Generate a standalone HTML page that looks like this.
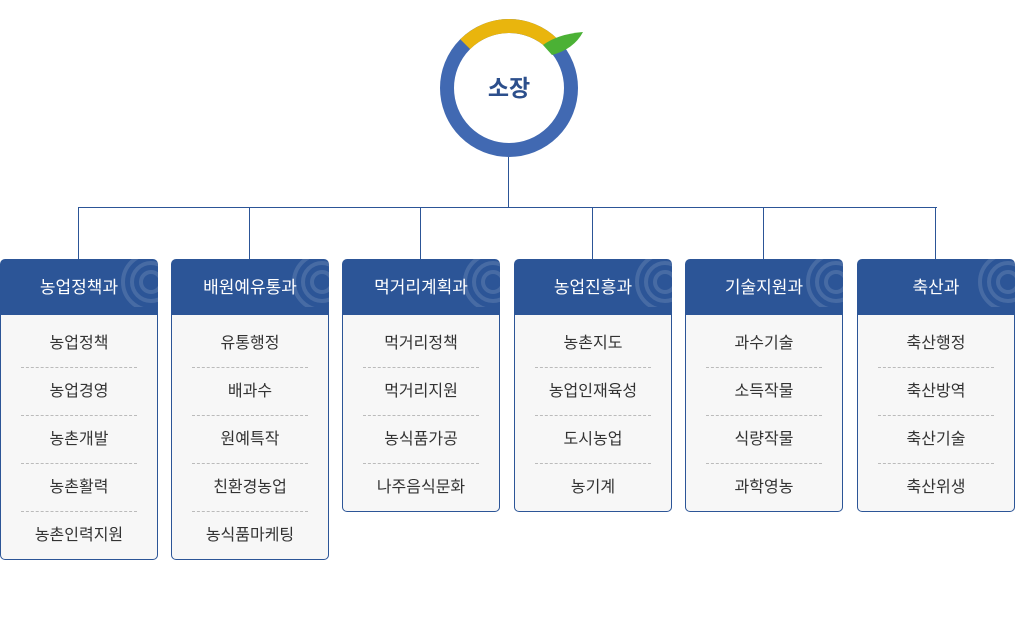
<!DOCTYPE html>
<html><head><meta charset="utf-8"><style>
body{margin:0;width:1016px;height:634px;background:#fff;position:relative;font-family:"Liberation Sans","Noto Sans CJK KR",sans-serif;overflow:hidden}
.col{position:absolute;top:259px;width:158px}
.hd{height:56px;background:#2c5597;border-radius:5px 5px 0 0;color:#fff;font-size:17px;text-align:center;line-height:58px;position:relative;overflow:hidden}
.hd svg{position:absolute;right:-18px;top:-22px}
.hd span{position:relative}
.bd{background:#f7f7f7;border:1px solid #2c5597;border-top:none;border-radius:0 0 5px 5px;padding:6px 0 0}
.it{height:47px;line-height:47px;text-align:center;font-size:16px;color:#333;margin:0 20px;border-top:1px dashed #bbb}
.it:first-child{border-top:none;height:46px;line-height:46px}
.ln{position:absolute;background:#2c5597}
</style></head><body>
<svg width="1016" height="200" style="position:absolute;left:0;top:0">
<circle cx="509" cy="88" r="62" fill="none" stroke="#4169b2" stroke-width="14"/>
<path d="M465.2 44.2 A62 62 0 0 1 552.1 43.4" fill="none" stroke="#e9b50d" stroke-width="14"/>
<path d="M543 45 Q558 34 583 32 Q574 49 552 55 Z" fill="#4bb135"/>
<text x="509" y="96" text-anchor="middle" font-size="23" font-weight="bold" fill="#2c4f8c" font-family="Liberation Sans,Noto Sans CJK KR,sans-serif">소장</text>
</svg>
<div class="ln" style="left:508px;top:157px;width:1px;height:50px"></div>
<div class="ln" style="left:78px;top:207px;width:859px;height:1px"></div>
<div class="ln" style="left:78px;top:207px;width:1px;height:52px"></div>
<div class="ln" style="left:249px;top:207px;width:1px;height:52px"></div>
<div class="ln" style="left:420px;top:207px;width:1px;height:52px"></div>
<div class="ln" style="left:592px;top:207px;width:1px;height:52px"></div>
<div class="ln" style="left:763px;top:207px;width:1px;height:52px"></div>
<div class="ln" style="left:935px;top:207px;width:1px;height:52px"></div>

<div class="col" style="left:0"><div class="hd"><svg width="70" height="70"><g fill="none" stroke="#fff" stroke-opacity=".13" stroke-width="4"><circle cx="45" cy="45" r="10"/><circle cx="45" cy="45" r="19"/><circle cx="45" cy="45" r="28"/></g></svg><span>농업정책과</span></div><div class="bd"><div class="it">농업정책</div><div class="it">농업경영</div><div class="it">농촌개발</div><div class="it">농촌활력</div><div class="it">농촌인력지원</div></div></div>
<div class="col" style="left:171px"><div class="hd"><svg width="70" height="70"><g fill="none" stroke="#fff" stroke-opacity=".13" stroke-width="4"><circle cx="45" cy="45" r="10"/><circle cx="45" cy="45" r="19"/><circle cx="45" cy="45" r="28"/></g></svg><span>배원예유통과</span></div><div class="bd"><div class="it">유통행정</div><div class="it">배과수</div><div class="it">원예특작</div><div class="it">친환경농업</div><div class="it">농식품마케팅</div></div></div>
<div class="col" style="left:342px"><div class="hd"><svg width="70" height="70"><g fill="none" stroke="#fff" stroke-opacity=".13" stroke-width="4"><circle cx="45" cy="45" r="10"/><circle cx="45" cy="45" r="19"/><circle cx="45" cy="45" r="28"/></g></svg><span>먹거리계획과</span></div><div class="bd"><div class="it">먹거리정책</div><div class="it">먹거리지원</div><div class="it">농식품가공</div><div class="it">나주음식문화</div></div></div>
<div class="col" style="left:514px"><div class="hd"><svg width="70" height="70"><g fill="none" stroke="#fff" stroke-opacity=".13" stroke-width="4"><circle cx="45" cy="45" r="10"/><circle cx="45" cy="45" r="19"/><circle cx="45" cy="45" r="28"/></g></svg><span>농업진흥과</span></div><div class="bd"><div class="it">농촌지도</div><div class="it">농업인재육성</div><div class="it">도시농업</div><div class="it">농기계</div></div></div>
<div class="col" style="left:685px"><div class="hd"><svg width="70" height="70"><g fill="none" stroke="#fff" stroke-opacity=".13" stroke-width="4"><circle cx="45" cy="45" r="10"/><circle cx="45" cy="45" r="19"/><circle cx="45" cy="45" r="28"/></g></svg><span>기술지원과</span></div><div class="bd"><div class="it">과수기술</div><div class="it">소득작물</div><div class="it">식량작물</div><div class="it">과학영농</div></div></div>
<div class="col" style="left:857px"><div class="hd"><svg width="70" height="70"><g fill="none" stroke="#fff" stroke-opacity=".13" stroke-width="4"><circle cx="45" cy="45" r="10"/><circle cx="45" cy="45" r="19"/><circle cx="45" cy="45" r="28"/></g></svg><span>축산과</span></div><div class="bd"><div class="it">축산행정</div><div class="it">축산방역</div><div class="it">축산기술</div><div class="it">축산위생</div></div></div>
</body></html>
